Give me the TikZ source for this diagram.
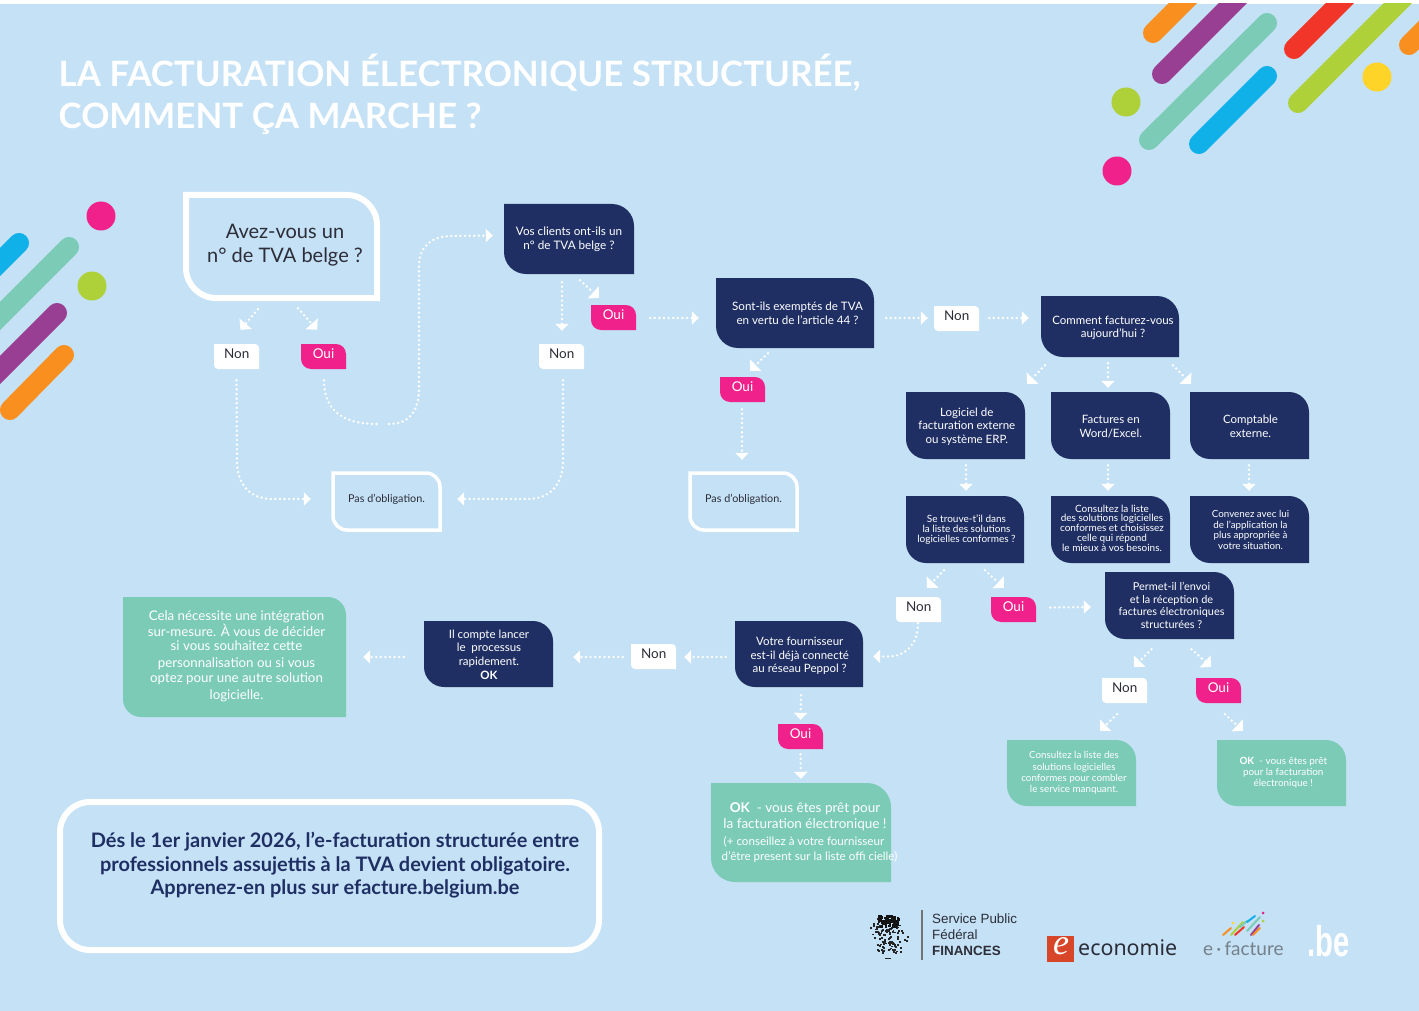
\documentclass[tikz,border=0pt]{standalone}
\usepackage{fontspec}
\usepackage{graphicx}
\setmainfont{Lato}
\newfontfamily\helv{Liberation Sans}
\newfontfamily\serifbi{Liberation Serif}
\newfontfamily\econ{Noto Sans}
\usetikzlibrary{arrows.meta}
\definecolor{bgblue}{HTML}{C5E1F5}
\definecolor{navy}{HTML}{1F2F63}
\definecolor{pinkc}{HTML}{F0218A}
\definecolor{teal}{HTML}{7BCBB7}
\definecolor{inkc}{HTML}{2B2D38}
\definecolor{orangec}{HTML}{F98F1E}
\definecolor{purplec}{HTML}{983F94}
\definecolor{redc}{HTML}{F13528}
\definecolor{limec}{HTML}{AED13A}
\definecolor{bluec}{HTML}{10B0E8}
\definecolor{yellowc}{HTML}{FFD428}
\definecolor{ecored}{HTML}{D8462A}
\definecolor{efgrey}{HTML}{74808A}
\tikzset{
  flow/.style={white,line width=2.7pt,line cap=round,dash pattern=on 0pt off 4.6pt,
    -{Triangle[width=13pt,length=7pt,fill=white,sep=0pt]}},
  flowd/.style={white,line width=2.7pt,line cap=round,dash pattern=on 0pt off 4.6pt,
    -{Triangle[width=16pt,length=8pt,fill=white]}},
  fillnavy/.style={fill=navy},
  fillpink/.style={fill=pinkc},
  fillwhite/.style={fill=white},
  fillteal/.style={fill=teal},
  outline/.style={draw=white,line width=#1},
  boxtext/.style={inner sep=0pt,text=white},
  darktext/.style={inner sep=0pt,text=inkc},
  sz/.style 2 args={font=\fontsize{#1}{#2}\selectfont},
  stripe/.style={line width=20pt,line cap=round},
  logotext/.style={inner sep=0pt,anchor=west}
}
% text inside a box: x offset, y offset (positive = higher), lines
\newcommand{\tx}[3]{\raisebox{\dimexpr#2pt-3.5pt\relax}[0pt][0pt]{\makebox[0pt][c]{\hspace*{#1pt}\parbox[c]{360pt}{\centering #3}}}}
% \bx{path style}{text style}{name}{x1}{y1}{x2}{y2}{radius}{content}
\newcommand{\bx}[9]{%
  \path[#1] (#4,#5) -- ({#6-#8},#5) .. controls ({#6-0.45*#8},#5) and (#6,{#5+0.45*#8}) .. (#6,{#5+#8})
    -- (#6,#7) -- ({#4+#8},#7) .. controls ({#4+0.45*#8},#7) and (#4,{#7-0.45*#8}) .. (#4,{#7-#8}) -- cycle;
  \node[#2,minimum width={(#6-#4)*1pt},minimum height={(#7-#5)*1pt}] (#3) at ({(#4+#6)/2},{(#5+#7)/2}) {#9};}
\newcommand{\nonbox}[3]{\bx{fillwhite}{darktext,sz={13.5}{16}}{#1}{#2}{#3}{\the\numexpr#2+45\relax}{\the\numexpr#3+25\relax}{4}{\tx{0.5}{2.5}{Non}}}
\newcommand{\ouibox}[3]{\bx{fillpink}{boxtext,sz={13.5}{16}}{#1}{#2}{#3}{\the\numexpr#2+45\relax}{\the\numexpr#3+25\relax}{10}{\tx{0}{2.5}{Oui}}}
\begin{document}
\begin{tikzpicture}[x=1pt,y=-1pt]
\useasboundingbox (0,0) rectangle (1419,1011);
\fill[white] (0,0) rectangle (1419,1011);
\fill[bgblue] (0,4) rectangle (1419,1011);
\begin{scope}
\clip (0,4) rectangle (1419,1011);
% top right decoration
\draw[stripe,orangec] (1153,33) -- (1203,-17);
\draw[stripe,purplec] (1162,74) -- (1252,-16);
\draw[stripe,teal] (1149,140) -- (1267,23);
\draw[stripe,bluec] (1199,144) -- (1267,76);
\draw[stripe,redc] (1294,49) -- (1354,-11);
\draw[stripe,limec] (1298,103) -- (1418,-17);
\draw[stripe,orangec] (1409,45) -- (1449,5);
\fill[yellowc] (1377,77) circle (14.5);
\fill[limec] (1126,102) circle (14.5);
\fill[pinkc] (1117,171) circle (14.5);
% left decoration
\draw[stripe,bluec] (19,243) -- (-31,293);
\draw[stripe,teal] (69,247) -- (-31,347);
\draw[stripe,purplec] (57,313) -- (-33,403);
\draw[stripe,orangec] (64,355) -- (10,410);
\fill[pinkc] (101,216) circle (14.5);
\fill[limec] (92,286) circle (14.5);
\end{scope}
% title
\node[inner sep=0pt,anchor=west,text=white,align=left,font=\fontsize{34.9}{42}\selectfont\bfseries] (title) at (58.5,94)
  {LA FACTURATION ÉLECTRONIQUE STRUCTURÉE,\\COMMENT ÇA MARCHE ?};
% boxes
\bx{outline=6pt}{darktext,sz={20}{24}}{avez}{186}{195}{377}{298}{30}{\tx{7}{-0.5}{Avez-vous un\\n° de TVA belge ?}}
\bx{fillnavy}{boxtext,sz={11.7}{14}}{vos}{504}{204}{634}{274}{22}{\tx{0}{0.5}{Vos clients ont-ils un\\n° de TVA belge ?}}
\nonbox{non1}{214}{344}
\ouibox{oui1}{301}{344}
\nonbox{non2}{539}{344}
\ouibox{oui2}{591}{305}
\bx{outline=3.5pt}{darktext,sz={10.8}{13}}{pas1}{333}{473}{440}{530}{14}{\tx{0}{2.5}{Pas d’obligation.}}
\bx{outline=3.5pt}{darktext,sz={10.8}{13}}{pas2}{690}{473}{797}{530}{14}{\tx{0}{2.5}{Pas d’obligation.}}
\bx{fillnavy}{boxtext,sz={11.6}{14}}{sont}{716}{278}{874}{348}{22}{\tx{5}{0}{Sont-ils exemptés de TVA\\en vertu de l’article 44 ?}}
\nonbox{non3}{934}{306}
\bx{fillnavy}{boxtext,sz={11.5}{13.3}}{comment}{1041}{296}{1179}{357}{22}{\tx{6}{-1}{Comment facturez-vous\\aujourd'hui ?}}
\ouibox{oui3}{720}{377}
\bx{fillnavy}{boxtext,sz={11.5}{13.5}}{logiciel}{906}{392}{1025}{459}{20}{\tx{2.5}{-0.5}{Logiciel de\\facturation externe\\ou système ERP.}}
\bx{fillnavy}{boxtext,sz={11.5}{13.5}}{factures}{1051}{392}{1170}{459}{20}{\tx{0.5}{-0.5}{Factures en\\Word/Excel.}}
\bx{fillnavy}{boxtext,sz={11.5}{13.5}}{comptable}{1190}{392}{1309}{459}{20}{\tx{2}{-0.5}{Comptable\\externe.}}
\bx{fillnavy}{boxtext,sz={10}{10}}{se}{906}{496}{1024}{563}{20}{\tx{3}{1}{Se trouve-t’il dans\\la liste des solutions\\logicielles conformes ?}}
\bx{fillnavy}{boxtext,sz={10}{9.8}}{consultez}{1051}{496}{1170}{563}{20}{\tx{3}{2.5}{Consultez la liste\\des solutions logicielles\\conformes et choisissez\\celle qui répond\\le mieux à vos besoins.}}
\bx{fillnavy}{boxtext,sz={9.8}{10.4}}{convenez}{1190}{496}{1309}{563}{20}{\tx{2}{0.5}{Convenez avec lui\\de l’application la\\plus appropriée à\\votre situation.}}
\bx{fillnavy}{boxtext,sz={10.9}{12.7}}{permet}{1105}{572}{1234}{639}{20}{\tx{4}{1}{Permet-il l'envoi\\et la réception de\\factures électroniques\\structurées ?}}
\nonbox{nonse}{896}{597}
\ouibox{ouise}{991}{597}
\bx{fillnavy}{boxtext,sz={11.5}{13.5}}{votre}{735}{621}{863}{687}{20}{\tx{1.5}{-1.5}{Votre fournisseur\\est-il déjà connecté\\au réseau Peppol ?}}
\nonbox{nonp}{631}{644}
\bx{fillnavy}{boxtext,sz={11.5}{13.6}}{il}{424}{621}{553}{687}{20}{\tx{1}{0}{Il compte lancer\\le\ \ processus\\rapidement.\\\textbf{OK}}}
\bx{fillteal}{boxtext,sz={13.3}{14.5}}{cela}{123}{597}{346}{717}{18}{\tx{4}{0.5}{Cela nécessite une intégration\\sur-mesure. À vous de décider\\si vous souhaitez cette\\[2.5pt]personnalisation ou si vous\\optez pour une autre solution\\[2.5pt]logicielle.}}
\ouibox{ouiv}{778}{724}
\bx{fillteal}{boxtext,sz={13.5}{16}}{okv}{711}{783}{891}{882}{24}{\tx{8}{0}{\textbf{OK}\ \ - vous êtes prêt pour\\la facturation électronique !\par\vspace{2pt}\fontsize{11.6}{15}\selectfont\hspace*{-2pt}(+ conseillez à votre fournisseur\\\hspace*{9pt}d’être present sur la liste offi cielle)}}
\nonbox{nonpermet}{1102}{678}
\ouibox{ouipermet}{1196}{678}
\bx{fillteal}{boxtext,sz={9.8}{11.3}}{cons2}{1007}{740}{1136}{806}{20}{\tx{5}{1}{Consultez la liste des\\solutions logicielles\\conformes pour combler\\le service manquant.}}
\bx{fillteal}{boxtext,sz={9.9}{11.2}}{ok2}{1217}{740}{1346}{806}{20}{\tx{3.5}{1}{\textbf{OK}\ \ - vous êtes prêt\\pour la facturation\\électronique !}}
% bottom box
\draw[white,line width=6pt,rounded corners=30pt] (60,802) rectangle (599,950);
\node[inner sep=0pt,text=navy,align=center,font=\fontsize{19.95}{23.6}\selectfont\bfseries] (note) at (335,865.2)
  {Dés le 1er janvier 2026, l’e-facturation structurée entre\\professionnels assujettis à la TVA devient obligatoire.\\Apprenez-en plus sur efacture.belgium.be};
% connectors
\draw[flowd] ([shift={(-23.5,11)}]avez.south) -- ([shift={(4,-14)}]non1.north);
\draw[flowd] ([shift={(16.5,10)}]avez.south) -- ([shift={(-6.5,-14)}]oui1.north);
\draw[flow] ([shift={(0.5,11)}]oui1.south) .. controls +(0,30) and (342,424) .. (378,424)
  (389,424) .. controls (410,424) and (419,410) .. (419,388) -- (419,266)
  .. controls (419,246) and (432,236) .. (452,236) -- ([shift={(-11,-3.5)}]vos.west);
\draw[flow] ([shift={(0,11)}]non1.south) -- (237,462) .. controls (237,484) and (250,499) .. (272,499) -- ([shift={(-22,-2.5)}]pas1.west);
\draw[flow] ([shift={(1.5,11)}]non2.south) -- (563,462) .. controls (563,484) and (550,499) .. (528,499) -- ([shift={(17,-2.5)}]pas1.east);
\draw[flow] ([shift={(-7,8)}]vos.south) -- ([shift={(0.5,-13)}]non2.north);
\draw[flowd] ([shift={(11,6)}]vos.south) -- ([shift={(-14.5,-7)}]oui2.north);
\draw[flow] ([shift={(14,0.5)}]oui2.east) -- ([shift={(-17,5)}]sont.west);
\draw[flowd] ([shift={(-27,5)}]sont.south) -- ([shift={(7.5,-6)}]oui3.north);
\draw[flow] ([shift={(-0.5,7)}]oui3.south) -- ([shift={(-1.5,-13)}]pas2.north);
\draw[flow] ([shift={(12,5)}]sont.east) -- ([shift={(-6,-0.5)}]non3.west);
\draw[flow] ([shift={(10,-0.5)}]non3.east) -- ([shift={(-12,-8.5)}]comment.west);
\draw[flowd] ([shift={(-65,8)}]comment.south) -- ([shift={(61.5,-8)}]logiciel.north);
\draw[flow] ([shift={(-2,6)}]comment.south) -- ([shift={(-2.5,-4)}]factures.north);
\draw[flowd] ([shift={(63,8)}]comment.south) -- ([shift={(-58.5,-8)}]comptable.north);
\draw[flow] ([shift={(0.5,6)}]logiciel.south) -- ([shift={(1,-5)}]se.north);
\draw[flow] ([shift={(-2.5,6)}]factures.south) -- ([shift={(-2.5,-5)}]consultez.north);
\draw[flow] ([shift={(-0.5,6)}]comptable.south) -- ([shift={(-0.5,-5)}]convenez.north);
\draw[flowd] ([shift={(-21,7)}]se.south) -- ([shift={(8.5,-9)}]nonse.north);
\draw[flowd] ([shift={(20,7)}]se.south) -- ([shift={(-9.5,-9)}]ouise.north);
\draw[flow] ([shift={(14,-2)}]ouise.east) -- ([shift={(-14,1.5)}]permet.west);
\draw[flow] ([shift={(-0.5,1)}]nonse.south) .. controls (918,645) and (905,656.5) .. (888,656.5) -- ([shift={(10,2.5)}]votre.east);
\draw[flow] ([shift={(-9,3)}]votre.west) -- ([shift={(8,0.5)}]nonp.east);
\draw[flow] ([shift={(-8,0.5)}]nonp.west) -- ([shift={(20,3)}]il.east);
\draw[flow] ([shift={(-20,3)}]il.west) -- ([shift={(17,0)}]cela.east);
\draw[flow] ([shift={(2,8)}]votre.south) -- ([shift={(0,-4)}]ouiv.north);
\draw[flow] ([shift={(0,5)}]ouiv.south) -- ([shift={(0,-4)}]okv.north);
\draw[flowd] ([shift={(-18,10)}]permet.south) -- ([shift={(9.5,-11)}]nonpermet.north);
\draw[flowd] ([shift={(22,10)}]permet.south) -- ([shift={(-7.5,-11)}]ouipermet.north);
\draw[flowd] ([shift={(-7.5,11)}]nonpermet.south) -- ([shift={(28.5,-9)}]cons2.north);
\draw[flowd] ([shift={(6.5,11)}]ouipermet.south) -- ([shift={(-38.5,-9)}]ok2.north);
% SPF emblem
\pgfmathsetseed{11}
\foreach \i in {1,...,55}{
  \pgfmathsetmacro{\ang}{rnd*360}
  \pgfmathsetmacro{\rad}{0.55+0.45*rnd}
  \fill[black!85] ({888+21*\rad*cos(\ang)},{935+21*\rad*sin(\ang)}) rectangle +(2,1.8);
}
\foreach \i in {1,...,60}{
  \fill[black!85] ({877+21*rnd},{927+20*rnd}) rectangle +(1.9,1.9);
}
\foreach \i in {1,...,60}{
  \fill[black!92] ({878+20*rnd},{915+11*rnd}) rectangle +(2.4,2.4);
}
\fill[black!85] (885,958) rectangle (891,959.2);
\fill[black!55!white] (921.2,910) rectangle (923,960);
\node[logotext,text=inkc,font=\helv\fontsize{13.4}{16}\selectfont] (spf1) at (932,919) {Service Public};
\node[logotext,text=inkc,font=\helv\fontsize{13.4}{16}\selectfont] (spf2) at (932,935) {Fédéral};
\node[logotext,text=inkc,font=\helv\bfseries\fontsize{13.4}{16}\selectfont] (spf3) at (932,951) {FINANCES};
% economie logo
\fill[ecored] (1047,936) rectangle (1074,962);
\node[inner sep=0pt,text=white,font=\serifbi\itshape\fontsize{36}{36}\selectfont] (ecoe) at (1061,946) {e};
\node[logotext,text=inkc,font=\econ\fontsize{21.4}{26}\selectfont] (eco) at (1078,948) {economie};
% e-facture logo
\foreach \xa/\ya/\xb/\yb/\cc in {1223/935/1231/928/orangec,1231/935/1243/922/limec,1235/935/1244/927/redc,1240/927/1247/921/teal,1247/922/1255/916/bluec,1247/931/1260/917/teal,1251/935/1259/925/purplec,1253/935/1260/928/orangec}{
  \draw[\cc,line width=2pt,line cap=round] (\xa,\ya) -- (\xb,\yb);
}
\fill[pinkc] (1263,913) circle (1.5);
\fill[limec] (1263,921) circle (1.5);
\fill[yellowc] (1233,923) circle (1.5);
\node[logotext,text=efgrey,font=\fontsize{19}{22}\selectfont] (efact) at (1203,949) {e\,{\textperiodcentered}\,facture};
\node[logotext,text=white,font=\helv\bfseries\fontsize{43}{44}\selectfont] (dotbe) at (1307,941) {\scalebox{0.68}[1]{.be}};
\end{tikzpicture}
\end{document}
